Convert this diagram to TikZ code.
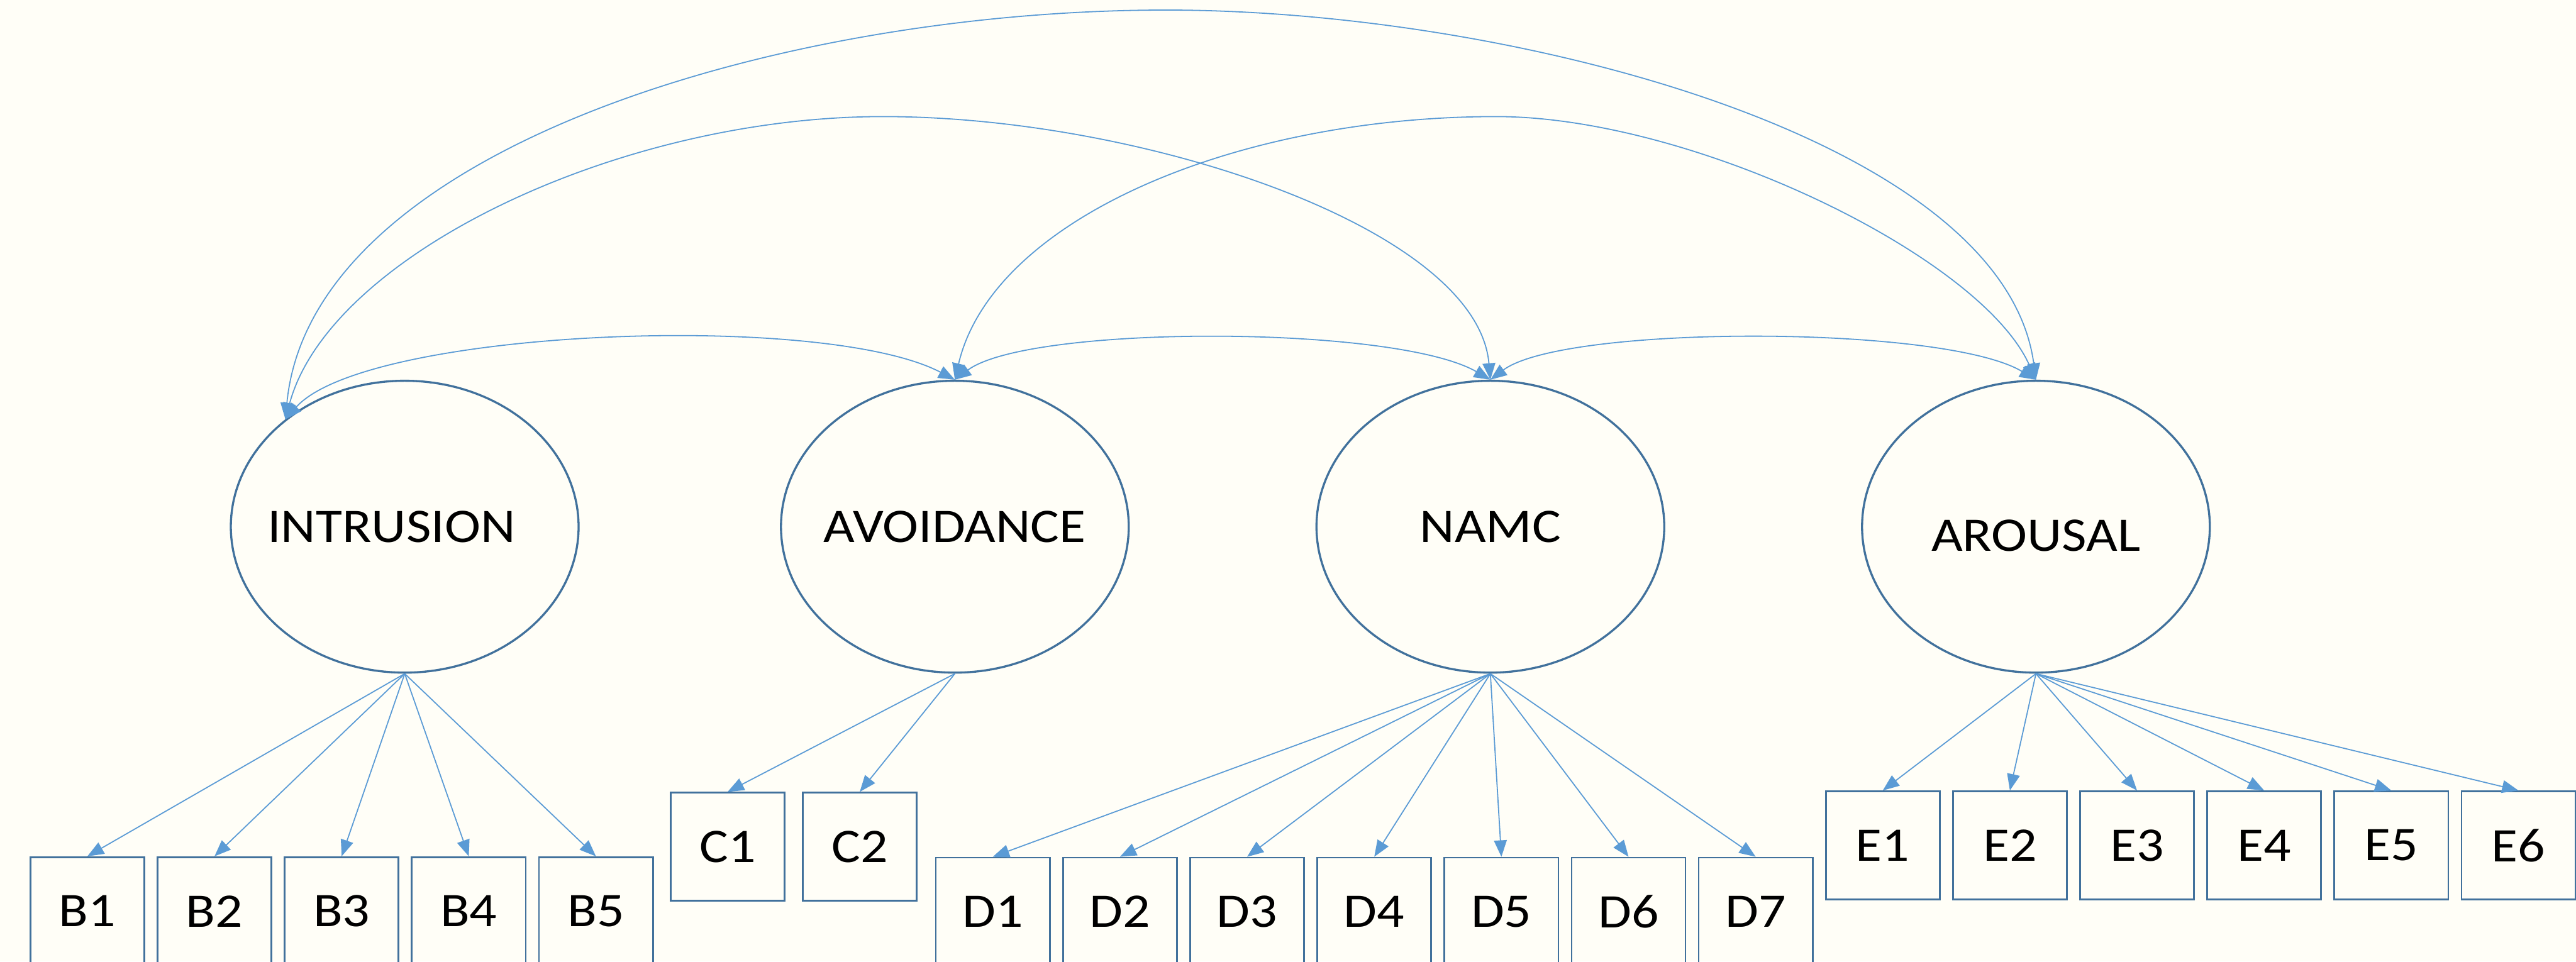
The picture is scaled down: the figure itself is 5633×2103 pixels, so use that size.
\documentclass[tikz,border=0pt]{standalone}
\usepackage{fontspec}
\setmainfont{Carlito}[FakeStretch=1.12]
\usepackage{tikz}
\usetikzlibrary{shapes.geometric, arrows.meta, positioning}
\definecolor{edgeblue}{RGB}{65,113,156}
\definecolor{lineblue}{RGB}{91,155,213}
\definecolor{cream}{RGB}{255,254,247}

\begin{document}
\begin{tikzpicture}[
    x=0.01cm, y=-0.01cm,
    latent/.style={ellipse, draw=edgeblue, line width=1.3pt, inner sep=0pt, minimum width=7.60cm, minimum height=6.38cm, font=\fontsize{30}{36}\selectfont},
    item/.style={rectangle, draw=edgeblue, line width=1.1pt, minimum width=2.49cm, minimum height=2.36cm, font=\fontsize{30}{36}\selectfont},
    arrow/.style={-{Triangle[length=0.36cm, width=0.28cm]}, draw=lineblue, line width=0.7pt},
    cov/.style={{Triangle[length=0.36cm, width=0.28cm]}-{Triangle[length=0.36cm, width=0.28cm]}, draw=lineblue, line width=0.7pt}
]

\path[use as bounding box, fill=cream] (0,0) rectangle (5633,2103);

% Factors
\node[latent] (intr) at (885,1152) {\makebox[0pt]{\kern-0.58cm INTRUSION}};
\node[latent] (avoid) at (2088,1152) {\makebox[0pt]{AVOIDANCE}};
\node[latent] (namc) at (3259,1152) {\makebox[0pt]{NAMC}};
\node[latent] (arous) at (4452,1152) {\raisebox{-0.54cm}[0pt][0pt]{\makebox[0pt]{AROUSAL}}};

% Items B
\node[item] (b1) at (191,1993) {B1};
\node[item, right=0.25cm of b1] (b2) {B2};
\node[item, right=0.25cm of b2] (b3) {B3};
\node[item, right=0.25cm of b3] (b4) {B4};
\node[item, right=0.25cm of b4] (b5) {B5};

% Items C
\node[item] (c1) at (1591,1852) {C1};
\node[item, right=0.36cm of c1] (c2) {C2};

% Items D
\node[item] (d1) at (2171,1994) {D1};
\node[item, right=0.25cm of d1] (d2) {D2};
\node[item, right=0.25cm of d2] (d3) {D3};
\node[item, right=0.25cm of d3] (d4) {D4};
\node[item, right=0.25cm of d4] (d5) {D5};
\node[item, right=0.25cm of d5] (d6) {D6};
\node[item, right=0.25cm of d6] (d7) {D7};

% Items E
\node[item] (e1) at (4117,1849) {E1};
\node[item, right=0.25cm of e1] (e2) {E2};
\node[item, right=0.25cm of e2] (e3) {E3};
\node[item, right=0.25cm of e3] (e4) {E4};
\node[item, right=0.25cm of e4] (e5) {E5};
\node[item, right=0.25cm of e5] (e6) {E6};

% Loadings
\draw[arrow] (intr.south) -- (b1.north);
\draw[arrow] (intr.south) -- (b2.north);
\draw[arrow] (intr.south) -- (b3.north);
\draw[arrow] (intr.south) -- (b4.north);
\draw[arrow] (intr.south) -- (b5.north);
\draw[arrow] (avoid.south) -- (c1.north);
\draw[arrow] (avoid.south) -- (c2.north);
\draw[arrow] (namc.south) -- (d1.north);
\draw[arrow] (namc.south) -- (d2.north);
\draw[arrow] (namc.south) -- (d3.north);
\draw[arrow] (namc.south) -- (d4.north);
\draw[arrow] (namc.south) -- (d5.north);
\draw[arrow] (namc.south) -- (d6.north);
\draw[arrow] (namc.south) -- (d7.north);
\draw[arrow] (arous.south) -- (e1.north);
\draw[arrow] (arous.south) -- (e2.north);
\draw[arrow] (arous.south) -- (e3.north);
\draw[arrow] (arous.south) -- (e4.north);
\draw[arrow] (arous.south) -- (e5.north);
\draw[arrow] (arous.south) -- (e6.north);

% Covariances
\draw[cov] (intr.138) .. controls (800,720) and (1800,680) .. (avoid.north);
\draw[cov] (avoid.north) .. controls (2250,710) and (3050,710) .. (namc.north);
\draw[cov] (namc.north) .. controls (3420,710) and (4250,710) .. (arous.north);
\draw[cov] (intr.138) .. controls (720,560) and (1350,255) .. (1931,255)
    .. controls (2500,255) and (3230,500) .. (namc.north);
\draw[cov] (avoid.north) .. controls (2170,480) and (2700,255) .. (3272,255)
    .. controls (3700,255) and (4330,560) .. (arous.north);
\draw[cov] (intr.138) .. controls (680,330) and (1700,22) .. (2550,22)
    .. controls (3300,22) and (4380,300) .. (arous.north);

\end{tikzpicture}
\end{document}
